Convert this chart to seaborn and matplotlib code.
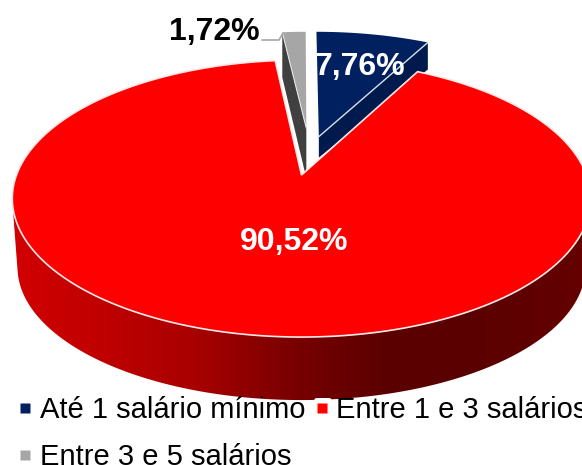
import numpy as np
import pandas as pd
import seaborn as sns
import matplotlib
matplotlib.use("Agg")
import matplotlib.pyplot as plt
from matplotlib.lines import Line2D
from matplotlib.patches import FancyBboxPatch, Polygon

categories = ["Até 1 salário mínimo", "Entre 1 e 3 salários", "Entre 3 e 5 salários"]
shares = [7.76, 90.52, 1.72]
share_labels = ["7,76%", "90,52%", "1,72%"]
top_colors = ["#002060", "#FF0000", "#A6A6A6"]
wall_colors = ["#001A4D", "#C00000", "#404040"]

df = pd.DataFrame({"cat": categories, "share": shares, "label": share_labels})

sns.set_theme(style="white")
plt.rcParams["font.family"] = ["Liberation Sans", "DejaVu Sans"]

# perspective of the tilted disc, in pixel units of the figure
CX, CY, A, B, K = 301.5, 175.0, 285.0, 134.5, 0.17
WALL_SCALE_X, WALL_SCALE_Y, WALL_DROP = 0.982, 0.96, 69.5


def project(u, v, wall=False):
    d = 1 + K * v
    if wall:
        return CX + WALL_SCALE_X * A * u / d, CY - WALL_SCALE_Y * B * v / d + WALL_DROP
    return CX + A * u / d, CY - B * v / d


def sector(start, end, off=(0.0, 0.0), radius=1.0, wall=False):
    th = np.radians(np.linspace(start, end, 300))
    u = np.r_[off[0], off[0] + radius * np.sin(th)]
    v = np.r_[off[1], off[1] + radius * np.cos(th)]
    return np.column_stack(project(u, v, wall))


def rim(start, end, off=(0.0, 0.0), wall=False):
    th = np.radians(np.linspace(start, end, 500))
    return np.column_stack(project(off[0] + np.sin(th), off[1] + np.cos(th), wall))


def lower_silhouette(points):
    """Lower convex outline (screen y grows downwards) of the rims, left to right."""
    pts = points[np.argsort(points[:, 0])]
    hull = []
    for p in pts:
        while len(hull) >= 2:
            a, b = hull[-2], hull[-1]
            if (b[0] - a[0]) * (p[1] - a[1]) - (b[1] - a[1]) * (p[0] - a[0]) >= 0:
                hull.pop()
            else:
                break
        hull.append(p)
    return np.array(hull)


fig = plt.figure(figsize=(5.82, 4.65), dpi=100)
ax = fig.add_axes([0, 0, 1, 1])
ax.set_axis_off()

edges = np.r_[0, np.cumsum(df["share"])] * 3.6
blue_a, blue_b = edges[0], edges[1]
red_a, red_b = edges[1], edges[2]
gray_a, gray_b = edges[2], edges[3]
blue_off = (0.064, 0.30)
gray_off = (0.018, 0.37)
gray_r = 0.93

# blue slice
p0 = project(blue_off[0] + np.sin(np.radians(blue_b)), blue_off[1] + np.cos(np.radians(blue_b)))
p1 = project(*blue_off)
bw = Polygon([p0, p1, (p1[0], p1[1] + 21), (p0[0], p0[1] + 27)], fc=wall_colors[0], ec="none")
ax.add_patch(bw)
ax.add_patch(Polygon(sector(blue_a, blue_b, blue_off), fc=top_colors[0], ec="none"))
ax.plot([p1[0], p0[0]], [p1[1], p0[1]], color="#D9DDE6", lw=1.0)

# gray slice
g_apex = project(*gray_off)
g_left = project(gray_off[0] + gray_r * np.sin(np.radians(gray_a)),
                 gray_off[1] + gray_r * np.cos(np.radians(gray_a)))
ax.add_patch(Polygon([g_left, g_apex, (g_apex[0], g_apex[1] + 50), (g_left[0], g_left[1] + 45)],
                     fc=wall_colors[2], ec="none"))
ax.add_patch(Polygon(sector(gray_a, gray_b, gray_off, gray_r), fc=top_colors[2], ec="none"))
ax.plot([g_apex[0], g_left[0]], [g_apex[1], g_left[1]], color="#E6E6E6", lw=0.8)

# red wall with its horizontal shading
wall_path = lower_silhouette(np.vstack([rim(red_a, red_b), rim(red_a, red_b, wall=True)]))
shade = sns.blend_palette(["#D40000", "#C00000", "#A80000", "#7A0000", "#5A0000", "#5C0000", "#640000"],
                          as_cmap=True)
img = ax.imshow(np.linspace(0, 1, 582).reshape(1, -1), cmap=shade, extent=(0, 582, 465, 0), aspect="auto")
clip = Polygon(wall_path, transform=ax.transData, fc="none", ec="none")
ax.add_patch(clip)
img.set_clip_path(clip)

# red top
ax.add_patch(Polygon(sector(red_a, red_b), fc=top_colors[1], ec="#FBE9E9", lw=1.2, joinstyle="miter"))

ax.set_xlim(0, 582)
ax.set_ylim(465, 0)

# leader line of the small slice
ax.plot([262, 279, 283], [40, 40, 33], color="#A6A6A6", lw=1.2)

# value labels
ax.text(294, 242, df["label"][1], color="white", fontsize=23, fontweight="bold", ha="center", va="center")
ax.text(360, 67, df["label"][0], color="white", fontsize=23, fontweight="bold", ha="center", va="center")
ax.text(214, 32, df["label"][2], color="black", fontsize=23, fontweight="bold", ha="center", va="center")

# white plate behind the red legend key
ax.add_patch(FancyBboxPatch((315, 399), 16, 17, boxstyle="round,pad=1,rounding_size=3",
                            fc="white", ec="none", zorder=4))

order = [0, 2, 1]
handles = [Line2D([], [], ls="none", marker="s", ms=6.5, mec="none", color=top_colors[i]) for i in order]
leg = ax.legend(handles, [categories[i] for i in order], ncol=2, frameon=False, fontsize=21,
                loc="upper left", bbox_to_anchor=(0, 0), bbox_transform=ax.transData,
                borderaxespad=0, borderpad=0, handlelength=0.5, handletextpad=0.25,
                columnspacing=0.31, labelspacing=0.65, labelcolor="black")
leg.set_zorder(5)
leg.set_bbox_to_anchor((18, 396), transform=ax.transData)

fig.savefig("out.png", dpi=100)
